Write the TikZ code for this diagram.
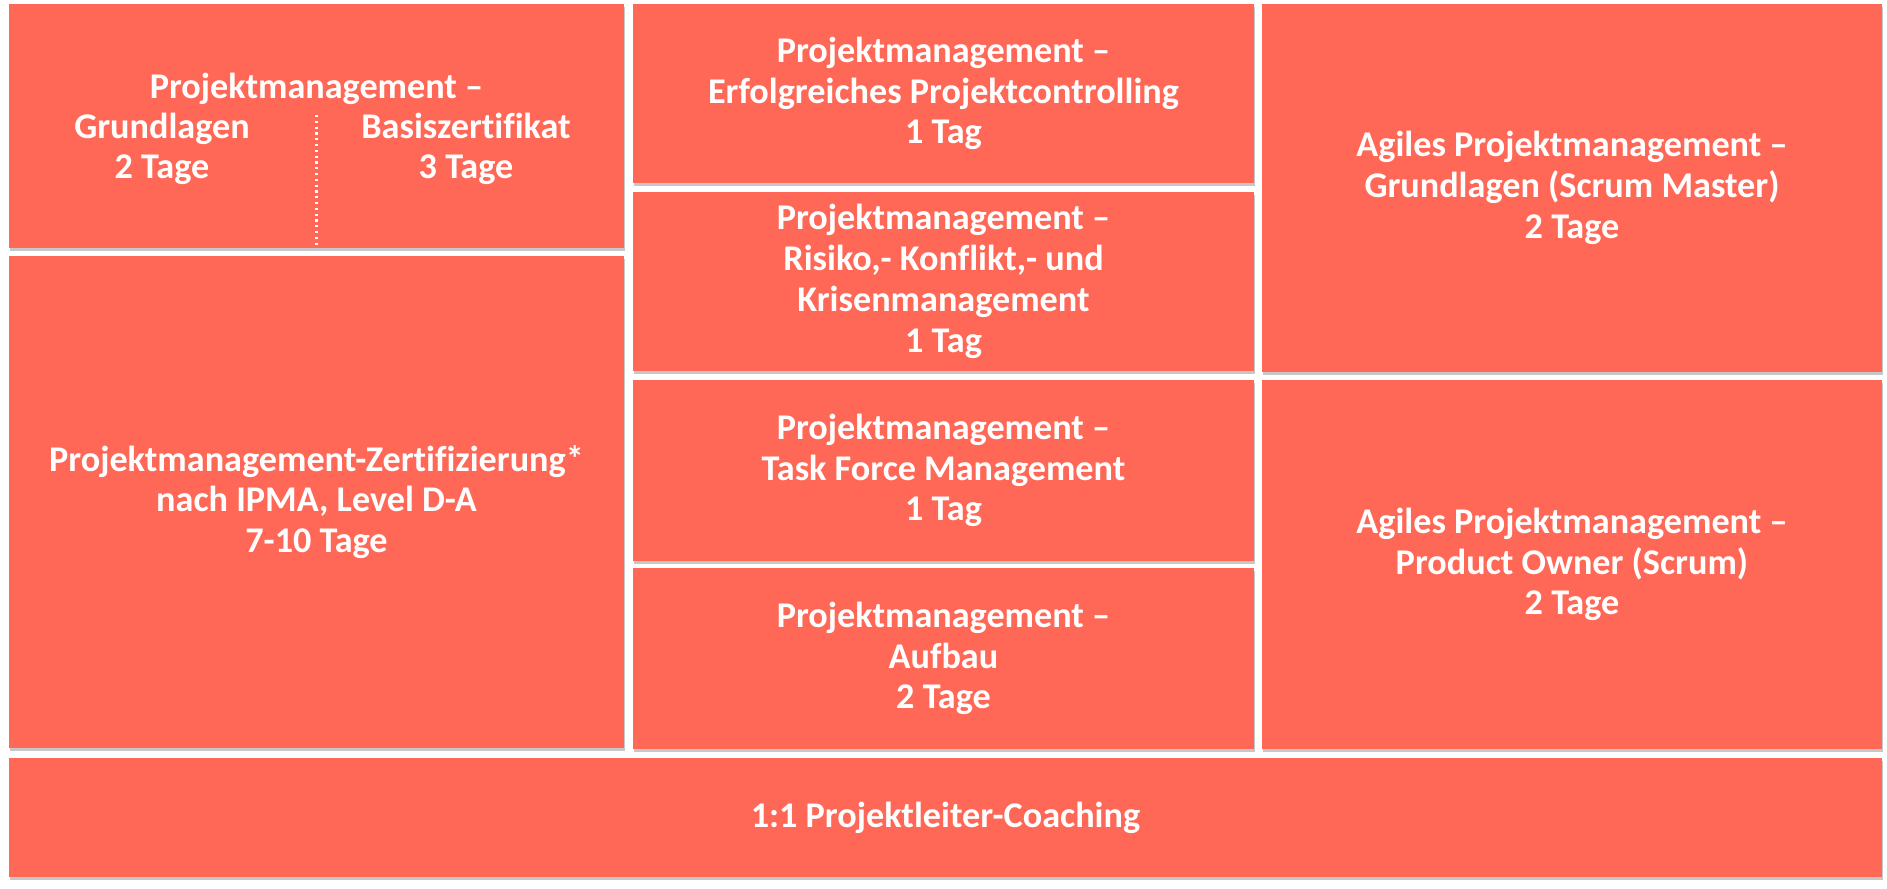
\documentclass[tikz,border=0pt]{standalone}
\usepackage{fontspec}
\setmainfont{Carlito}[Ligatures=NoCommon]
\usetikzlibrary{shadows}
\definecolor{coral}{RGB}{255,104,86}
\tikzset{
  kurs/.style={shape=rectangle,fill=coral,inner sep=0pt,align=center,text=white,
    font=\bfseries\fontsize{20.6}{23.2}\selectfont,
    drop shadow={shadow xshift=0.6pt,shadow yshift=-1.6pt,opacity=0.22,fill=black}},
  label text/.style={text=white,inner sep=0pt,font=\bfseries\fontsize{20.6}{23.2}\selectfont},
}
\begin{document}
\begin{tikzpicture}[x=0.02cm,y=-0.02cm]
\useasboundingbox (0,0) rectangle (1887,889);
\node[kurs,minimum width=12.3cm,minimum height=4.88cm] (grund) at (316.5,126) {};
\node[kurs,minimum width=12.3cm,minimum height=9.84cm] (ipma) at (316.5,502) {Projektmanagement-Zertifizierung*\\nach IPMA, Level D-A\\7-10 Tage};
\node[kurs,minimum width=12.42cm,minimum height=3.58cm] (controlling) at (943.5,93.5) {Projektmanagement --\\Erfolgreiches Projektcontrolling\\1 Tag};
\node[kurs,minimum width=12.42cm,minimum height=3.58cm] (risiko) at (943.5,281.5) {Projektmanagement --\\Risiko,- Konflikt,- und\\Krisenmanagement\\1 Tag};
\node[kurs,minimum width=12.42cm,minimum height=3.62cm] (taskforce) at (943.5,470.5) {Projektmanagement --\\Task Force Management\\1 Tag};
\node[kurs,minimum width=12.42cm,minimum height=3.62cm] (aufbau) at (943.5,658.5) {Projektmanagement --\\Aufbau\\2 Tage};
\node[kurs,minimum width=12.4cm,minimum height=7.36cm] (scrummaster) at (1572,188) {Agiles Projektmanagement --\\Grundlagen (Scrum Master)\\2 Tage};
\node[kurs,minimum width=12.4cm,minimum height=7.38cm] (productowner) at (1572,564.5) {Agiles Projektmanagement --\\Product Owner (Scrum)\\2 Tage};
\node[kurs,minimum width=37.46cm,minimum height=2.38cm] (coaching) at (945.5,817.5) {1:1 Projektleiter-Coaching};

\node[label text,anchor=base] (grundhead) at (316.5,98) {Projektmanagement --};
\node[label text,anchor=base] (grundlagen) at (162,138) {Grundlagen};
\node[label text,anchor=base] (grundtage) at (162,178) {2 Tage};
\node[label text,anchor=base] (basis) at (466,138) {Basiszertifikat};
\node[label text,anchor=base] (basistage) at (466,178) {3 Tage};
\coordinate (teiler) at (316.5,115);
\draw[white,line width=1.3pt,dotted] (teiler) -- (teiler |- grund.south);
\end{tikzpicture}
\end{document}
